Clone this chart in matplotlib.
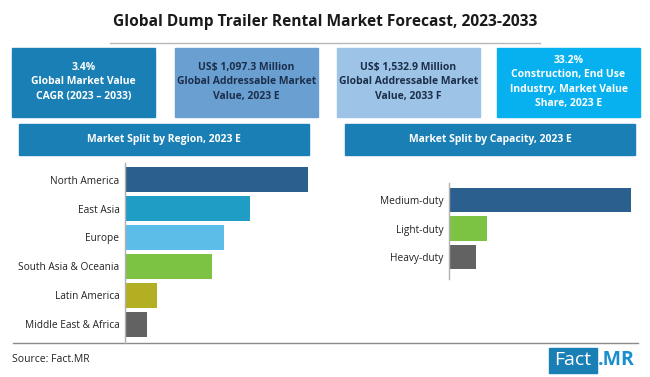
import matplotlib
matplotlib.use("Agg")
import matplotlib.pyplot as plt
from matplotlib.patches import Rectangle

# ---------------- data ----------------
title = "Global Dump Trailer Rental Market Forecast, 2023-2033"
box_texts = [
    "3.4%\nGlobal Market Value\nCAGR (2023 \u2013 2033)",
    "US$ 1,097.3 Million\nGlobal Addressable Market\nValue, 2023 E",
    "US$ 1,532.9 Million\nGlobal Addressable Market\nValue, 2033 F",
    "33.2%\nConstruction, End Use\nIndustry, Market Value\nShare, 2023 E",
]
banner_texts = ["Market Split by Region, 2023 E", "Market Split by Capacity, 2023 E"]

regions = ["North America", "East Asia", "Europe", "South Asia & Oceania",
           "Latin America", "Middle East & Africa"]
region_share = [33.4, 22.8, 18.1, 15.9, 5.8, 4.0]
region_colors = ["#2b5f8e", "#1f9dc4", "#5bbde8", "#7cc243", "#b2b022", "#626262"]

capacities = ["Medium-duty", "Light-duty", "Heavy-duty"]
capacity_share = [73.7, 15.4, 10.9]
capacity_colors = ["#2b5f8e", "#7cc243", "#626262"]

source = "Source: Fact.MR"

# ---------------- layout ----------------
W, H = 650, 377
fig = plt.figure(figsize=(W / 100, H / 100), dpi=100)
fig.patch.set_facecolor("white")
FONT = ["Open Sans", "DejaVu Sans"]
plt.rcParams["font.family"] = FONT

bg = fig.add_axes([0, 0, 1, 1])
bg.set_xlim(0, W)
bg.set_ylim(H, 0)
bg.axis("off")

bg.text(325.5, 22, title, ha="center", va="center", fontsize=11.2,
        fontweight="bold", color="#1a1a1a")
bg.plot([110, 540], [43, 43], color="#b8b8b8", lw=1)

box_x = [12, 175, 337, 497]
box_w = 143
box_colors = ["#1a7fb5", "#6a9fd2", "#9dc3e6", "#07b1ef"]
box_txt_colors = ["white", "#1c2f4a", "#1c2f4a", "white"]
for x, t, c, tc in zip(box_x, box_texts, box_colors, box_txt_colors):
    bg.add_patch(Rectangle((x, 48), box_w, 69, color=c))
    bg.text(x + box_w / 2, 82, t, ha="center", va="center", fontsize=7.5,
            fontweight="bold", color=tc, linespacing=1.42)

for x, t in zip([19, 345], banner_texts):
    bg.add_patch(Rectangle((x, 124), 290, 31, color="#1a7fb5"))
    bg.text(x + 145, 139.5, t, ha="center", va="center", fontsize=7.5,
            fontweight="bold", color="white")

bg.plot([13, 638], [343, 343], color="#8a8a8a", lw=1)
bg.text(12, 360, source, ha="left", va="center", fontsize=7.5, color="#222222")
bg.add_patch(Rectangle((549, 348), 48, 25, color="#1a7fb5"))
bg.text(573, 360, "Fact", ha="center", va="center", fontsize=14,
        color="white")
bg.text(598, 360, ".MR", ha="left", va="center", fontsize=14,
        fontweight="bold", color="#1a8fd0")


def px_axes(x0, y0, x1, y1):
    return fig.add_axes([x0 / W, 1 - y1 / H, (x1 - x0) / W, (y1 - y0) / H])


def bar_chart(ax, cats, vals, cols, xmax, ylim):
    pos = range(len(cats))
    ax.barh(list(pos), vals, height=0.86, color=cols)
    ax.set_xlim(0, xmax)
    ax.set_ylim(*ylim)
    ax.set_yticks(list(pos))
    ax.set_yticklabels(cats, fontsize=7.3, color="#222222")
    ax.tick_params(axis="y", length=0, pad=4)
    ax.set_xticks([])
    for s in ["top", "right", "bottom"]:
        ax.spines[s].set_visible(False)
    ax.spines["left"].set_color("#b0b0b0")
    ax.spines["left"].set_linewidth(1)
    ax.patch.set_alpha(0)


ax1 = px_axes(125, 163, 344, 343)
bar_chart(ax1, regions, region_share, region_colors, 40, (5.64, -0.57))

ax2 = px_axes(449, 183, 647, 279)
bar_chart(ax2, capacities, capacity_share, capacity_colors, 80, (2.77, -0.6))

fig.savefig("out.png", dpi=100)
